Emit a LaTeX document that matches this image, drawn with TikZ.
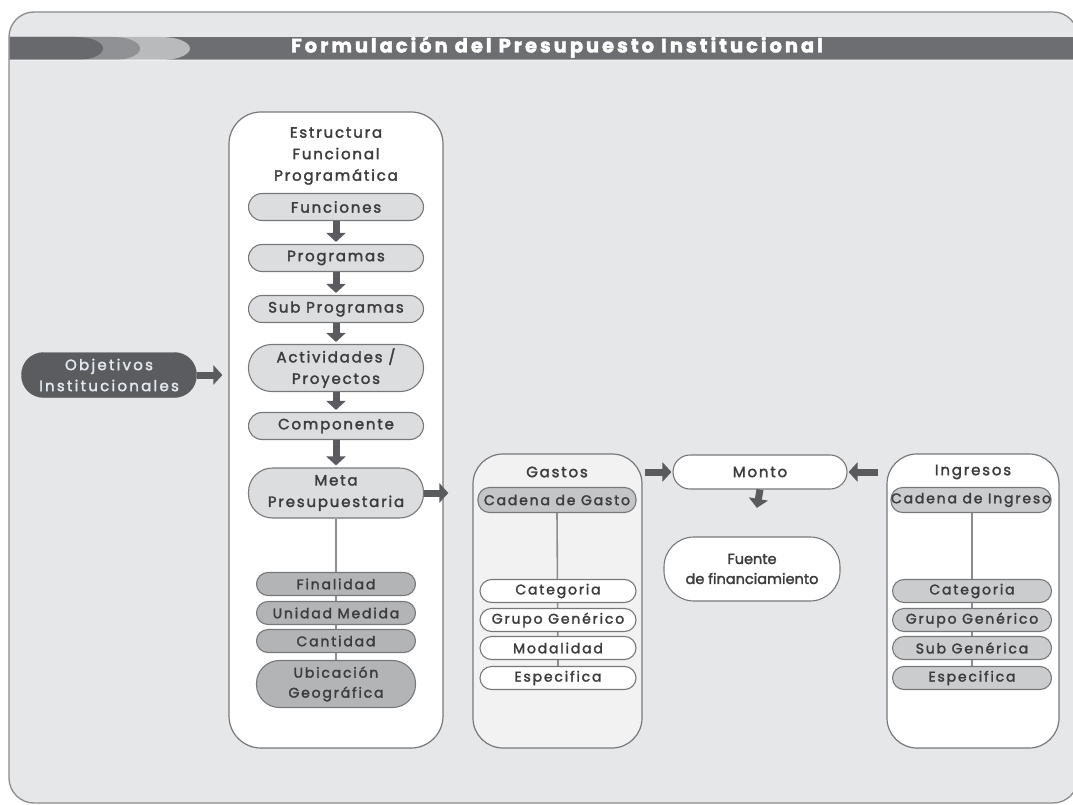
\documentclass[tikz,border=0pt]{standalone}
\usepackage{fontspec}
\setmainfont{Poppins}[FakeBold=2]
\usetikzlibrary{arrows.meta}
\definecolor{framebg}{HTML}{E6E7E8}
\definecolor{frameln}{HTML}{8A8B8D}
\definecolor{band}{HTML}{6D6E71}
\definecolor{chevA}{HTML}{68696C}
\definecolor{chevB}{HTML}{909194}
\definecolor{chevC}{HTML}{B9BABC}
\definecolor{edge}{HTML}{77787B}
\definecolor{pillgray}{HTML}{DCDDDE}
\definecolor{darkpill}{HTML}{B3B4B6}
\definecolor{chaingray}{HTML}{C4C5C7}
\definecolor{ingpill}{HTML}{CBCCCE}
\definecolor{gastbg}{HTML}{F2F2F2}
\definecolor{objfill}{HTML}{5B5C5F}
\definecolor{objtext}{HTML}{E2E9F1}
\definecolor{txt}{HTML}{3C3C3E}
\definecolor{arrowc}{HTML}{5A5B5E}
\definecolor{linkc}{HTML}{8C8D8F}
\pgfdeclarelayer{panel}
\pgfdeclarelayer{boxes}
\pgfdeclarelayer{links}
\pgfsetlayers{panel,boxes,links,main}
\begin{document}
\begin{tikzpicture}[x=1pt,y=-1pt,
  lbl/.style={font=\fontsize{15}{21.5}\selectfont\addfontfeatures{LetterSpace=12}, text=txt, align=center, inner sep=0pt},
  smalllbl/.style={font=\fontsize{14}{20}\selectfont\addfontfeatures{LetterSpace=13}, text=txt, align=center, inner sep=0pt},
  pill/.style={lbl, draw=edge, line width=1.1pt, fill=pillgray, minimum width=175, minimum height=27, rounded corners=13.5},
  tallpill/.style={pill, minimum height=47, rounded corners=23},
  thinpill/.style={smalllbl, draw=edge, line width=1.1pt, minimum width=156, minimum height=23, rounded corners=11.5},
  bigbox/.style={draw=edge, line width=1.2pt, fill=white, rounded corners=32},
  blockarrow/.style={draw=arrowc, line width=7pt, -{Triangle[length=9pt,width=19pt]}},
  link/.style={draw=linkc, line width=1.6pt}
]
\useasboundingbox (0,0) rectangle (1073,805);

\begin{pgfonlayer}{panel}
% page and outer panel
\fill[white] (0,0) rectangle (1073,805);
\draw[fill=framebg, draw=frameln, line width=1.3pt, rounded corners=25] (9,12) rectangle (1078,803);
% title band with chevrons
\fill[band] (9.6,37) rectangle (1073,60);
\fill[chevC] (9.6,37) -- (160,37) .. controls (182,37) and (190,44) .. (190,48.5)
  .. controls (190,53) and (182,60) .. (160,60) -- (9.6,60) -- cycle;
\fill[chevB] (9.6,37) -- (112,37) .. controls (133,37) and (140,44) .. (140,48.5)
  .. controls (140,53) and (133,60) .. (112,60) -- (9.6,60) -- cycle;
\fill[chevA] (9.6,37) -- (75,37) .. controls (96,37) and (103,44) .. (103,48.5)
  .. controls (103,53) and (96,60) .. (75,60) -- (9.6,60) -- cycle;
\fill[white, opacity=0.35] (9.6,59.5) rectangle (1073,61);
\end{pgfonlayer}
\node[text=white, font=\fontsize{19.5}{22}\selectfont\bfseries\addfontfeatures{LetterSpace=15}, inner sep=0pt, anchor=base] (title) at (557,52.5) {Formulación del Presupuesto Institucional};

% containers
\begin{pgfonlayer}{boxes}
\node[bigbox, minimum width=214, minimum height=636] (est) at (336,430) {};
\node[bigbox, fill=gastbg, minimum width=169, minimum height=294, rounded corners=30] (gas) at (557.5,601) {};
\node[bigbox, minimum width=172, minimum height=294, rounded corners=30] (ing) at (973,601) {};
\end{pgfonlayer}

% functional programmatic structure
\node[lbl] (esttitle) at (336,156) {Estructura\\Funcional\\Programática};
\node[pill] (fun) at (336,207) {Funciones};
\node[pill] (prog) at (336,258) {Programas};
\node[pill] (sub) at (336,309) {Sub Programas};
\node[tallpill] (act) at (336,368) {Actividades /\\Proyectos};
\node[pill] (comp) at (336,426) {Componente};
\node[tallpill, minimum height=50, rounded corners=24] (meta) at (336,493) {Meta\\Presupuestaria};
\node[thinpill, fill=darkpill, minimum width=159] (fin) at (336,584) {Finalidad};
\node[thinpill, fill=darkpill, minimum width=159] (uni) at (336,613) {Unidad Medida};
\node[thinpill, fill=darkpill, minimum width=159] (can) at (336,641) {Cantidad};
\node[thinpill, fill=darkpill, minimum width=159, minimum height=47, rounded corners=23] (ubi) at (336,684) {Ubicación\\Geográfica};

% objectives
\node[lbl, text=objtext, fill=objfill, draw=objfill, minimum width=175, minimum height=45, rounded corners=22,
  font=\fontsize{15}{21}\selectfont\addfontfeatures{LetterSpace=15}] (obj) at (109,375) {Objetivos\\Institucionales};

% expenses
\node[lbl] (gastitle) at (557,472) {Gastos};
\node[thinpill, fill=chaingray, minimum width=158, minimum height=25] (cg) at (557,500) {Cadena de Gasto};
\node[thinpill, fill=white] (cat1) at (558,591) {Categoria};
\node[thinpill, fill=white] (gg1) at (558,620) {Grupo Genérico};
\node[thinpill, fill=white] (mod) at (558,648) {Modalidad};
\node[thinpill, fill=white] (esp1) at (558,678) {Especifica};

% amount and funding source
\node[pill, fill=white, minimum width=174, minimum height=34, rounded corners=17] (monto) at (760,472) {Monto};
\node[smalllbl, draw=edge, line width=1.1pt, fill=white, minimum width=176, minimum height=64, rounded corners=30,
  font=\fontsize{14.5}{20}\selectfont] (fuente) at (752,569) {Fuente\\de financiamiento};

% revenues
\node[lbl] (ingtitle) at (973,472) {Ingresos};
\node[thinpill, fill=ingpill, minimum width=158, minimum height=25] (ci) at (971,500) {Cadena de Ingreso};
\node[thinpill, fill=ingpill, minimum width=159] (cat2) at (972,591) {Categoria};
\node[thinpill, fill=ingpill, minimum width=159] (gg2) at (972,620) {Grupo Genérico};
\node[thinpill, fill=ingpill, minimum width=159] (sg) at (972,648) {Sub Genérica};
\node[thinpill, fill=ingpill, minimum width=159] (esp2) at (972,678) {Especifica};

% vertical links behind the pills
\begin{pgfonlayer}{links}
\draw[link] (meta.south) -- (ubi.north);
\draw[link] (cg.south) -- (esp1.north);
\draw[link] (ci.south -| esp2.north) -- (esp2.north);
\end{pgfonlayer}

% flow arrows
\draw[blockarrow, shorten >=2pt] (fun.south) -- (prog.north);
\draw[blockarrow, shorten >=2pt] (prog.south) -- (sub.north);
\draw[blockarrow, shorten >=2pt] (sub.south) -- (act.north);
\draw[blockarrow, shorten >=2pt] (act.south) -- (comp.north);
\draw[blockarrow, shorten >=2pt] (comp.south) -- (meta.north);
\draw[blockarrow, shorten >=6pt] (obj.east) -- (obj.east -| est.west);
\draw[blockarrow, shorten >=24pt] (meta.east) -- (meta.east -| gas.west);
\draw[blockarrow, shorten <=2pt, shorten >=1pt] (monto.west -| gas.east) -- (monto.west);
\draw[blockarrow, shorten <=8pt, shorten >=1pt] (monto.east -| ing.west) -- (monto.east);
\draw[blockarrow, shorten >=29pt] (monto.south) -- (fuente.north);
\end{tikzpicture}
\end{document}
